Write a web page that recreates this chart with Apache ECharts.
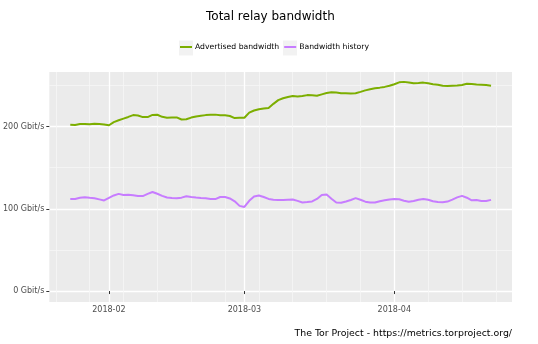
<!DOCTYPE html>
<html>
<head>
<meta charset="utf-8">
<script src="https://cdn.jsdelivr.net/npm/echarts@6/dist/echarts.min.js"></script>
<style>
html,body{margin:0;padding:0;background:#fff;}
#chart{width:538px;height:344px;}
</style>
</head>
<body>
<div id="chart"></div>
<script>
// ---- data ----
var startDate = [2018, 0, 24]; // first day of daily series (2018-01-24)
var seriesNames = ['Advertised bandwidth', 'Bandwidth history'];
var advertisedBw = [
  202.0, 201.7, 203.0, 203.0, 202.7, 203.2, 203.1, 202.5, 201.5, 205.3,
  207.6, 209.6, 211.6, 213.8, 213.4, 211.4, 211.4, 214.0, 214.2, 211.7,
  210.7, 211.0, 211.0, 208.5, 208.7, 210.8, 212.0, 212.9, 213.8, 214.1,
  214.4, 213.6, 213.7, 212.7, 210.2, 210.6, 210.6, 216.8, 219.4, 221.0,
  221.9, 222.5, 227.5, 232.0, 234.3, 235.8, 237.0, 236.5, 237.0, 238.1,
  237.8, 237.3, 239.0, 240.6, 241.6, 241.2, 240.3, 240.3, 240.2, 240.3,
  242.0, 243.9, 245.3, 246.4, 247.2, 248.1, 249.4, 251.3, 253.6, 254.2,
  253.4, 252.4, 252.8, 253.3, 252.4, 251.4, 250.7, 249.4, 249.1, 249.5,
  249.8, 250.3, 251.9, 251.5, 251.0, 250.7, 250.4, 249.5
];
var historyBw = [
  111.8, 111.9, 113.3, 114.0, 113.3, 112.7, 111.4, 110.1, 113.3, 116.2,
  118.1, 116.7, 116.9, 116.5, 115.4, 115.4, 118.1, 120.4, 118.2, 115.7,
  113.7, 113.1, 112.7, 113.5, 115.3, 114.2, 113.6, 113.2, 112.9, 112.0,
  111.8, 114.3, 114.3, 112.5, 109.1, 103.5, 102.2, 109.6, 114.8, 116.2,
  114.3, 112.0, 111.0, 110.6, 110.6, 110.9, 111.2, 109.6, 107.7, 108.1,
  108.9, 111.9, 116.8, 117.2, 112.2, 107.5, 107.4, 108.9, 110.7, 112.9,
  110.9, 108.6, 107.5, 107.7, 109.2, 110.4, 111.3, 112.0, 111.5, 109.7,
  108.5, 109.4, 111.0, 112.0, 111.0, 109.2, 108.2, 107.8, 108.7, 111.1,
  113.8, 115.7, 113.4, 110.2, 110.6, 109.5, 109.4, 110.8
];
var monthTicks = ['2018-02-01', '2018-03-01', '2018-04-01'];
var weekTicks = ['2018-01-21', '2018-01-28', '2018-02-04', '2018-02-11', '2018-02-18',
  '2018-02-25', '2018-03-04', '2018-03-11', '2018-03-18', '2018-03-25',
  '2018-04-08', '2018-04-15', '2018-04-22'];
var yMajorTicks = [0, 100, 200];
var yMinorTicks = [50, 150, 250];
var yUnit = ' Gbit/s';
var xRange = ['2018-01-19 16:00', '2018-04-25 08:00'];
var yRange = [-13.3, 266.2];
var titleText = 'Total relay bandwidth';
var footerText = 'The Tor Project - https://metrics.torproject.org/';
var colors = ['#7CAE00', '#C77CFF'];

// ---- helpers ----
function ts(s) {
  var p = s.split(/[- :]/).map(Number);
  return new Date(p[0], p[1] - 1, p[2], p[3] || 0, p[4] || 0).getTime();
}
function dayTs(i) {
  return new Date(startDate[0], startDate[1], startDate[2] + i).getTime();
}
function pairs(vals) {
  return vals.map(function (v, i) { return [dayTs(i), v]; });
}
function pad(n) { return n < 10 ? '0' + n : '' + n; }

var FONT = 'DejaVu Sans';
var chart = echarts.init(document.getElementById('chart'), null, {renderer: 'canvas'});
var xMin = ts(xRange[0]), xMax = ts(xRange[1]);

chart.setOption({
  animation: false,
  backgroundColor: '#ffffff',
  color: colors,
  title: [
    {text: titleText, left: 206, top: 10, padding: 0,
     textStyle: {fontFamily: FONT, fontSize: 12, fontWeight: 'normal', color: '#000', lineHeight: 14}},
    {text: footerText, right: 26, top: 328, padding: 0,
     textStyle: {fontFamily: FONT, fontSize: 9.4, fontWeight: 'normal', color: '#000', lineHeight: 12}}
  ],
  graphic: [
    {type: 'rect', left: 179, top: 40.5, shape: {width: 14, height: 15}, style: {fill: '#F2F2F2'}, z: -1},
    {type: 'rect', left: 283, top: 40.5, shape: {width: 14, height: 15}, style: {fill: '#F2F2F2'}, z: -1}
  ],
  legend: {
    data: seriesNames,
    left: 180, top: 43, padding: 0,
    icon: 'rect', itemWidth: 12, itemHeight: 2, itemGap: 5,
    textStyle: {fontFamily: FONT, fontSize: 7.7, color: '#000', padding: [0, 0, 0, -2]}
  },
  grid: {left: 48, right: 26, top: 72, bottom: 42, containLabel: false,
         show: true, backgroundColor: '#EBEBEB', borderWidth: 0},
  xAxis: [
    {type: 'value', min: xMin, max: xMax,
     axisLine: {show: false},
     axisTick: {show: true, customValues: monthTicks.map(ts), length: 3, lineStyle: {color: '#333', width: 1}},
     axisLabel: {customValues: monthTicks.map(ts), color: '#4D4D4D', fontFamily: FONT, fontSize: 8, margin: 4,
       formatter: function (v) { var d = new Date(v); return d.getFullYear() + '-' + pad(d.getMonth() + 1); }},
     splitLine: {show: true, lineStyle: {color: '#ffffff', width: 1.3}},
     z: 3},
    {type: 'value', min: xMin, max: xMax, position: 'top',
     axisLine: {show: false},
     axisTick: {show: false, customValues: weekTicks.map(ts)},
     axisLabel: {show: false, customValues: weekTicks.map(ts)},
     splitLine: {show: true, lineStyle: {color: '#F6F6F6', width: 0.8}},
     z: 1}
  ],
  yAxis: [
    {type: 'value', min: yRange[0], max: yRange[1],
     axisLine: {show: false},
     axisTick: {show: true, customValues: yMajorTicks, length: 3, lineStyle: {color: '#333', width: 1}},
     axisLabel: {customValues: yMajorTicks, color: '#4D4D4D', fontFamily: FONT, fontSize: 8, margin: 5,
       formatter: function (v) { return v + yUnit; }},
     splitLine: {show: true, lineStyle: {color: '#ffffff', width: 1.3}}},
    {type: 'value', min: yRange[0], max: yRange[1], position: 'right',
     axisLine: {show: false},
     axisTick: {show: false, customValues: yMinorTicks},
     axisLabel: {show: false, customValues: yMinorTicks},
     splitLine: {show: true, lineStyle: {color: '#F6F6F6', width: 0.8}}}
  ],
  series: [
    {name: seriesNames[0], type: 'line', data: pairs(advertisedBw), showSymbol: false, symbol: 'none',
     lineStyle: {width: 2, color: colors[0]}, itemStyle: {color: colors[0]}, z: 5},
    {name: seriesNames[1], type: 'line', data: pairs(historyBw), showSymbol: false, symbol: 'none',
     lineStyle: {width: 2, color: colors[1]}, itemStyle: {color: colors[1]}, z: 5}
  ]
});
</script>
</body>
</html>
